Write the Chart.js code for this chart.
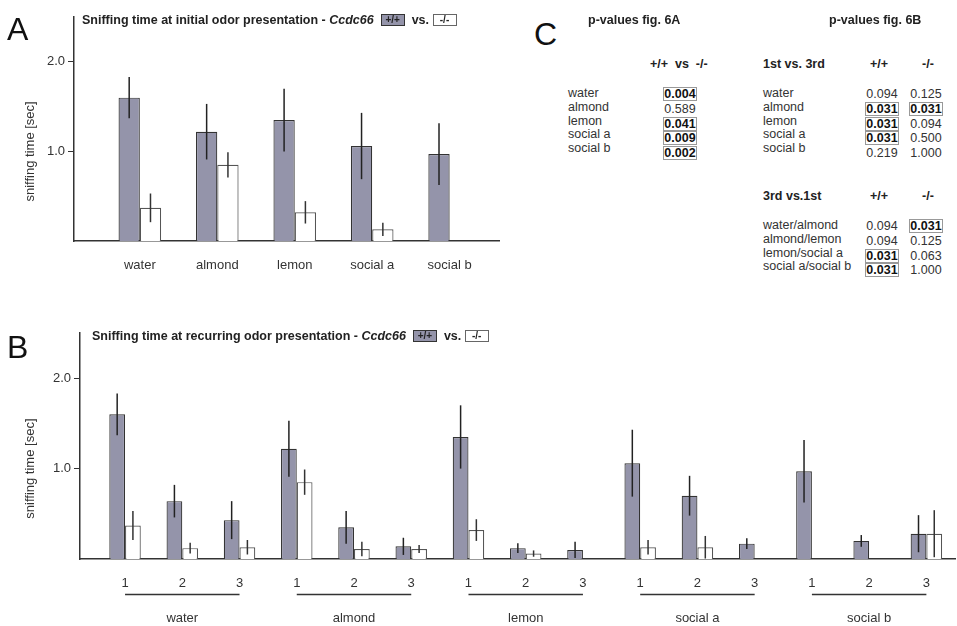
<!DOCTYPE html>
<html>
<head>
<meta charset="utf-8">
<script src="https://cdn.jsdelivr.net/npm/chart.js@4.4.1/dist/chart.umd.min.js"></script>
<style>
	body { margin: 0; background: #fff; font-family: "Liberation Sans", Arial, sans-serif; color: #333; }
	#page { position: relative; width: 957px; height: 626px; overflow: hidden; }
	canvas { position: absolute; }
	.letter { position: absolute; font-size: 32px; color: #111; line-height: 1; }
	.title { position: absolute; font-size: 12.5px; font-weight: bold; color: #222; white-space: nowrap; line-height: 14px; }
	.title i { margin-right: 7px; }
	.key { display: inline-block; width: 22px; height: 10px; line-height: 10px; border: 1px solid #333; font-size: 10px; text-align: center; vertical-align: 1px; }
	.key.wt { background: #9494aa; }
	.key.ko { background: #fff; border-color: #666; }
	.t { position: absolute; font-size: 12.5px; white-space: nowrap; line-height: 13.75px; color: #333; }
	.b { font-weight: bold; color: #222; }
	.v { display: block; text-align: center; width: 32px; border: 1px solid transparent; height: 12px; line-height: 12px; margin-bottom: 0.75px; }
	.v.sig { border-color: #999; font-weight: bold; color: #111; }
</style>
</head>
<body>
<div id="page">
	<canvas id="chartA" width="500" height="290" style="left:0;top:0"></canvas>
	<canvas id="chartB" width="957" height="306" style="left:0;top:320px"></canvas>

	<div class="letter" style="left:7px;top:13px">A</div>
	<div class="letter" style="left:7px;top:331px">B</div>
	<div class="letter" style="left:534px;top:18px">C</div>

	<div class="title" style="left:82px;top:13px">Sniffing time at initial odor presentation - <i>Ccdc66</i><span class="key wt">+/+</span>&nbsp; vs. <span class="key ko">-/-</span></div>
	<div class="title" style="left:92px;top:329px">Sniffing time at recurring odor presentation - <i>Ccdc66</i><span class="key wt">+/+</span>&nbsp; vs. <span class="key ko">-/-</span></div>

	<div id="tableC"></div>
</div>

<script>
// 냄새 종류 / 반복 횟수
const odors = ['water', 'almond', 'lemon', 'social a', 'social b'];
const trials = ['1', '2', '3'];

// A: 첫 노출 시 sniffing time (+/+ , -/-) 와 오차
const wtA = [1.60, 1.22, 1.35, 1.06, 0.97];
const wtErrA = [0.23, 0.31, 0.35, 0.37, 0.345];
const koA = [0.37, 0.85, 0.32, 0.13, null];
const koErrA = [0.16, 0.14, 0.125, 0.075, null];

// B: 반복 노출 (냄새마다 1, 2, 3회)
const wtB = [1.60, 0.64, 0.43, 1.22, 0.35, 0.14, 1.35, 0.12, 0.10, 1.06, 0.70, 0.17, 0.97, 0.20, 0.28];
const wtErrB = [0.23, 0.18, 0.21, 0.31, 0.18, 0.095, 0.35, 0.055, 0.09, 0.37, 0.22, 0.06, 0.345, 0.065, 0.205];
const koB = [0.37, 0.12, 0.13, 0.85, 0.11, 0.11, 0.32, 0.06, null, 0.13, 0.13, null, null, null, 0.28];
const koErrB = [0.16, 0.06, 0.08, 0.14, 0.08, 0.045, 0.12, 0.035, null, 0.08, 0.125, null, null, null, 0.26];

// y축 눈금
const yTicks = [1.0, 2.0];

// C: p-values
const pA = ['0.004', '0.589', '0.041', '0.009', '0.002'];
const sigA = [true, false, true, true, true];
const pB13wt = ['0.094', '0.031', '0.031', '0.031', '0.219'];
const pB13ko = ['0.125', '0.031', '0.094', '0.500', '1.000'];
const sigB13wt = [false, true, true, true, false];
const sigB13ko = [false, true, false, false, false];
const pairs = ['water/almond', 'almond/lemon', 'lemon/social a', 'social a/social b'];
const pB31wt = ['0.094', '0.094', '0.031', '0.031'];
const pB31ko = ['0.031', '0.125', '0.063', '1.000'];
const sigB31wt = [false, false, true, true];
const sigB31ko = [true, false, false, false];

const wtColor = '#9494aa';
const textColor = '#333';

// 오차 막대 (캡 없는 세로선)
const errorBarPlugin = {
	id: 'errorBars',
	afterDatasetsDraw(chart) {
		const ctx = chart.ctx;
		const y = chart.scales.y;
		chart.data.datasets.forEach((ds, di) => {
			const meta = chart.getDatasetMeta(di);
			meta.data.forEach((bar, i) => {
				const v = ds.data[i].y;
				const e = ds.errors[i];
				if (v == null || e == null) return;
				ctx.save();
				ctx.strokeStyle = ds.errorColor;
				ctx.lineWidth = 1.5;
				ctx.beginPath();
				ctx.moveTo(bar.x, y.getPixelForValue(v + e));
				ctx.lineTo(bar.x, y.getPixelForValue(Math.max(v - e, 0)));
				ctx.stroke();
				ctx.restore();
			});
		});
	}
};

// y축 제목: 1.0 위치 기준으로 세로 텍스트
const yTitlePlugin = {
	id: 'yTitle',
	afterDraw(chart) {
		const ctx = chart.ctx;
		ctx.save();
		ctx.translate(30, chart.scales.y.getPixelForValue(1.0));
		ctx.rotate(-Math.PI / 2);
		ctx.font = '13px "Liberation Sans", Arial, sans-serif';
		ctx.fillStyle = textColor;
		ctx.textAlign = 'center';
		ctx.textBaseline = 'middle';
		ctx.fillText('sniffing time [sec]', 0, 0);
		ctx.restore();
	}
};

// B: 냄새 그룹 밑줄과 이름
const groupPlugin = {
	id: 'groups',
	afterDraw(chart) {
		const ctx = chart.ctx;
		const x = chart.scales.x;
		const base = chart.chartArea.bottom;
		ctx.save();
		ctx.strokeStyle = '#333';
		ctx.lineWidth = 1.5;
		ctx.fillStyle = textColor;
		ctx.font = '13px "Liberation Sans", Arial, sans-serif';
		ctx.textAlign = 'center';
		ctx.textBaseline = 'middle';
		odors.forEach((name, g) => {
			const x1 = x.getPixelForValue(g * 3);
			const x2 = x.getPixelForValue(g * 3 + 2);
			ctx.beginPath();
			ctx.moveTo(x1, base + 35.5);
			ctx.lineTo(x2, base + 35.5);
			ctx.stroke();
			ctx.fillText(name, x.getPixelForValue(g * 3 + 1), base + 59.5);
		});
		ctx.restore();
	}
};

function makeChart(id, opt) {
	return new Chart(document.getElementById(id), {
		type: 'bar',
		data: {
			datasets: [
				{
					label: '+/+',
					data: opt.wt.map((v, i) => ({ x: i, y: v })),
					errors: opt.wtErr,
					errorColor: '#222',
					backgroundColor: wtColor,
					borderColor: '#333',
					borderWidth: 1.2
				},
				{
					label: '-/-',
					data: opt.ko.map((v, i) => ({ x: i, y: v })),
					errors: opt.koErr,
					errorColor: '#333',
					backgroundColor: '#ffffff',
					borderColor: '#555',
					borderWidth: 1.2
				}
			]
		},
		options: {
			responsive: false,
			animation: false,
			layout: { padding: opt.padding },
			categoryPercentage: 0.55,
			barPercentage: 1.0,
			plugins: {
				legend: { display: false },
				tooltip: { enabled: false }
			},
			scales: {
				x: {
					type: 'linear',
					offset: false,
					min: opt.xMin,
					max: opt.xMax,
					afterFit: s => { s.height = opt.xHeight; },
					afterBuildTicks: s => { s.ticks = opt.wt.map((_, i) => ({ value: i })); },
					grid: { display: false, drawTicks: false, offset: false },
					border: { display: true, color: '#333', width: 1.5 },
					ticks: {
						padding: 17,
						color: textColor,
						font: { size: 13, family: '"Liberation Sans", Arial, sans-serif' },
						callback: opt.xLabel
					}
				},
				y: {
					min: 0,
					max: 2.5,
					afterFit: s => { s.width = opt.yWidth; },
					afterBuildTicks: s => { s.ticks = yTicks.map(v => ({ value: v })); },
					grid: { drawOnChartArea: false, drawTicks: true, tickLength: 6, color: '#333', lineWidth: 1 },
					border: { display: true, color: '#333', width: 1.5 },
					ticks: {
						padding: 3,
						color: textColor,
						font: { size: 13, family: '"Liberation Sans", Arial, sans-serif' },
						callback: v => v.toFixed(1)
					}
				}
			}
		},
		plugins: opt.plugins
	});
}

makeChart('chartA', {
	wt: wtA, wtErr: wtErrA, ko: koA, koErr: koErrA,
	xMin: -0.85, xMax: 4.65,
	xHeight: 49, yWidth: 74,
	padding: { top: 17, right: 0, left: 0, bottom: 0 },
	xLabel: v => odors[v],
	plugins: [errorBarPlugin, yTitlePlugin]
});

makeChart('chartB', {
	wt: wtB, wtErr: wtErrB, ko: koB, koErr: koErrB,
	xMin: -0.787, xMax: 14.5,
	xHeight: 67, yWidth: 80,
	padding: { top: 13, right: 2, left: 0, bottom: 0 },
	xLabel: v => trials[v % 3],
	plugins: [errorBarPlugin, yTitlePlugin, groupPlugin]
});

// C: p-value 표
const tableC = document.getElementById('tableC');
function addText(x, y, html, cls) {
	const d = document.createElement('div');
	d.className = 't' + (cls ? ' ' + cls : '');
	d.style.left = x + 'px';
	d.style.top = y + 'px';
	d.innerHTML = html;
	tableC.appendChild(d);
}
function column(values, sig) {
	return values.map((v, i) => `<span class="v${sig[i] ? ' sig' : ''}">${v}</span>`).join('');
}

addText(588, 14, 'p-values fig. 6A', 'b');
addText(829, 14, 'p-values fig. 6B', 'b');

addText(650, 58, '+/+ &nbsp;vs &nbsp;-/-', 'b');
addText(568, 87, odors.join('<br>'));
addText(663, 87, column(pA, sigA));

addText(763, 58, '1st vs. 3rd', 'b');
addText(870, 58, '+/+', 'b');
addText(922, 58, '-/-', 'b');
addText(763, 87, odors.join('<br>'));
addText(865, 87, column(pB13wt, sigB13wt));
addText(909, 87, column(pB13ko, sigB13ko));

addText(763, 190, '3rd vs.1st', 'b');
addText(870, 190, '+/+', 'b');
addText(922, 190, '-/-', 'b');
addText(763, 219, pairs.join('<br>'));
addText(865, 219, column(pB31wt, sigB31wt));
addText(909, 219, column(pB31ko, sigB31ko));
</script>
</body>
</html>
